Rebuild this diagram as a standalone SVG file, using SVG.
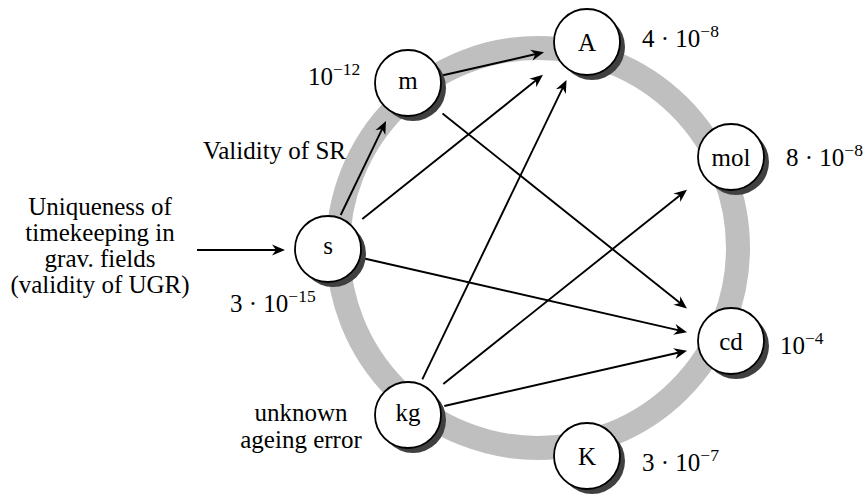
<svg xmlns="http://www.w3.org/2000/svg" width="866" height="494" viewBox="0 0 866 494">
<style>
text{font-family:"Liberation Serif","Times New Roman",serif;font-size:25px;fill:#000}
.lbl{text-anchor:middle}
.sup{font-size:17.5px}
.node{fill:#fff;stroke:#000;stroke-width:1.8}
.shadow{fill:#404040}
.conn{fill:none;stroke:#000;stroke-width:1.9;marker-end:url(#ah)}
</style>
<defs>
<marker id="ah" viewBox="-8 -7 16 14" markerWidth="16" markerHeight="14" refX="0" refY="0" orient="auto" markerUnits="userSpaceOnUse" overflow="visible">
<path d="M6,0 L-7,-5.5 L-3,0 L-7,5.5 Z" fill="#000"/>
</marker>
</defs>
<rect width="866" height="494" fill="#fff"/>
<circle id="ring" cx="538" cy="248" r="200" fill="none" stroke="#bfbfbf" stroke-width="24"/>
<g id="connectors">
<path class="conn" d="M197,250 L279,250"/>
<path class="conn" d="M340.7,215 L383.4,126.4"/>
<path class="conn" d="M443,75.3 L538.2,53.5"/>
<path class="conn" d="M362.3,219 L538.3,78.6"/>
<path class="conn" d="M422.3,379.3 L563.9,85.4"/>
<path class="conn" d="M442.5,113.5 L682.3,304.8"/>
<path class="conn" d="M363.3,258.3 L681.2,330.9"/>
<path class="conn" d="M443.3,384 L682.3,193.4"/>
<path class="conn" d="M444.3,406 L681.2,352"/>
</g>
<g id="node-s"><circle class="shadow" cx="333" cy="254" r="33"/><circle class="node" cx="328" cy="249" r="33"/><text class="lbl" x="328" y="254">s</text></g>
<g id="node-m"><circle class="shadow" cx="413" cy="88" r="33"/><circle class="node" cx="408" cy="83" r="33"/><text class="lbl" x="408" y="89">m</text></g>
<g id="node-A"><circle class="shadow" cx="592" cy="47" r="33"/><circle class="node" cx="587" cy="42" r="33"/><text class="lbl" x="587" y="51">A</text></g>
<g id="node-mol"><circle class="shadow" cx="736" cy="162" r="33"/><circle class="node" cx="731" cy="157" r="33"/><text class="lbl" x="731" y="166">mol</text></g>
<g id="node-cd"><circle class="shadow" cx="736" cy="346" r="33"/><circle class="node" cx="731" cy="341" r="33"/><text class="lbl" x="731" y="350">cd</text></g>
<g id="node-K"><circle class="shadow" cx="592" cy="461" r="33"/><circle class="node" cx="587" cy="456" r="33"/><text class="lbl" x="587" y="465">K</text></g>
<g id="node-kg"><circle class="shadow" cx="413" cy="420" r="33"/><circle class="node" cx="408" cy="415" r="33"/><text class="lbl" x="408" y="421">kg</text></g>
<g id="labels">
<text class="lbl" x="100" y="215">Uniqueness of</text>
<text class="lbl" x="100" y="241">timekeeping in</text>
<text class="lbl" x="100" y="267">grav. fields</text>
<text class="lbl" x="100" y="293">(validity of UGR)</text>
<text x="346" y="159" text-anchor="end">Validity of SR</text>
<text class="lbl" x="301" y="421">unknown</text>
<text class="lbl" x="301" y="448">ageing error</text>
<text x="308" y="85">10<tspan class="sup" dy="-10">−12</tspan></text>
<text x="642" y="47">4 · 10<tspan class="sup" dy="-10">−8</tspan></text>
<text x="786" y="166">8 · 10<tspan class="sup" dy="-10">−8</tspan></text>
<text x="780" y="354">10<tspan class="sup" dy="-10">−4</tspan></text>
<text x="642" y="471">3 · 10<tspan class="sup" dy="-10">−7</tspan></text>
<text x="230" y="312">3 · 10<tspan class="sup" dy="-10">−15</tspan></text>
</g>
</svg>
